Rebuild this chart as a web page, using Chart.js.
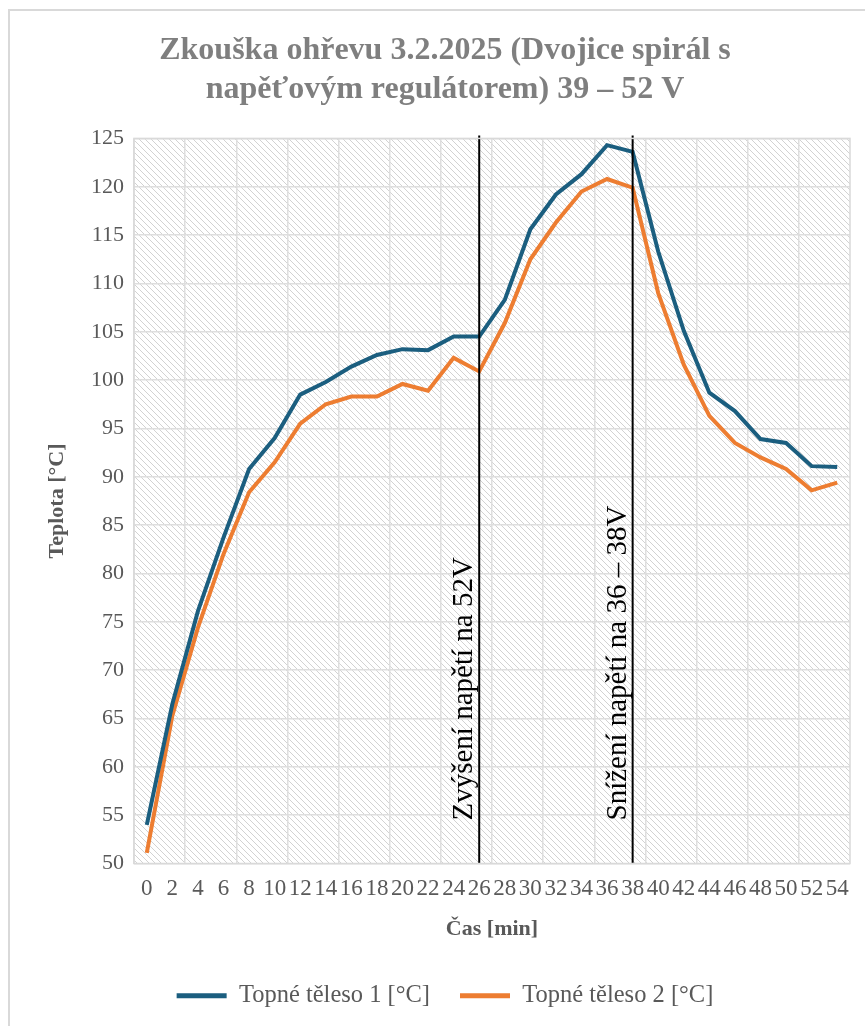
<!DOCTYPE html>
<html>
<head>
<meta charset="utf-8">
<script src="https://cdn.jsdelivr.net/npm/chart.js@4.4.1/dist/chart.umd.min.js"></script>
<style>
  html, body { margin: 0; padding: 0; background: #fff; overflow: hidden; }
  #frame { position: absolute; left: 8px; top: 9px; width: 900px; height: 1100px; border: 2px solid #d9d9d9; box-sizing: border-box; }
  #chart { position: absolute; left: 0; top: 0; }
</style>
</head>
<body>
<div id="frame"></div>
<canvas id="chart" width="865" height="1026"></canvas>
<script>
const minutes = ['0', '2', '4', '6', '8', '10', '12', '14', '16', '18', '20', '22', '24', '26',
    '28', '30', '32', '34', '36', '38', '40', '42', '44', '46', '48', '50', '52', '54'];

const teleso1 = [54.0, 66.5, 76.1, 83.7, 90.8, 94.0, 98.5, 99.8, 101.4, 102.6, 103.2, 103.1, 104.5, 104.5,
    108.3, 115.6, 119.2, 121.3, 124.3, 123.6, 113.3, 105.1, 98.7, 96.8, 93.9, 93.5, 91.1, 91.0];

const teleso2 = [51.1, 65.3, 74.4, 82.0, 88.4, 91.5, 95.5, 97.5, 98.3, 98.3, 99.6, 98.9, 102.3, 100.9,
    105.9, 112.5, 116.3, 119.5, 120.8, 119.9, 109.0, 101.6, 96.3, 93.5, 92.0, 90.8, 88.6, 89.4];

// svisle cary se zmenou napeti
const markerMinutes = ['26', '38'];
const markerTexts = ['Zvýšení napětí na 52V', 'Snížení napětí na 36 – 38V'];

const serif = "'Liberation Serif', 'Times New Roman', serif";

// sraf na pozadi grafu
function hatchPattern(ctx) {
    const tile = document.createElement('canvas');
    tile.width = 6;
    tile.height = 6;
    const t = tile.getContext('2d');
    t.strokeStyle = '#d2d2d2';
    t.lineWidth = 1;
    t.beginPath();
    t.moveTo(-1, -1); t.lineTo(7, 7);
    t.moveTo(-1, 5); t.lineTo(1, 7);
    t.moveTo(5, -1); t.lineTo(7, 1);
    t.stroke();
    return ctx.createPattern(tile, 'repeat');
}

const plotBackground = {
    id: 'plotBackground',
    beforeDraw(chart) {
        const {ctx, chartArea: a} = chart;
        ctx.save();
        ctx.fillStyle = hatchPattern(ctx);
        ctx.fillRect(a.left, a.top, a.right - a.left, a.bottom - a.top);
        ctx.restore();
    },
    afterDraw(chart) {
        const {ctx, chartArea: a} = chart;
        ctx.save();
        ctx.strokeStyle = '#d9d9d9';
        ctx.lineWidth = 1.5;
        ctx.strokeRect(a.left, a.top, a.right - a.left, a.bottom - a.top);
        ctx.restore();
    }
};

const markers = {
    id: 'markers',
    afterDatasetsDraw(chart) {
        const {ctx, chartArea: a, scales: {x}} = chart;
        ctx.save();
        markerMinutes.forEach((m, i) => {
            const px = x.getPixelForValue(minutes.indexOf(m));
            ctx.strokeStyle = '#000';
            ctx.lineWidth = 2;
            ctx.beginPath();
            ctx.moveTo(px, a.top - 3);
            ctx.lineTo(px, a.bottom);
            ctx.stroke();

            ctx.save();
            ctx.translate(px - 7, a.bottom - 43);
            ctx.rotate(-Math.PI / 2);
            ctx.fillStyle = '#000';
            ctx.font = '29px ' + serif;
            ctx.textAlign = 'left';
            ctx.textBaseline = 'alphabetic';
            ctx.fillText(markerTexts[i], 0, 0);
            ctx.restore();
        });
        ctx.restore();
    }
};

new Chart(document.getElementById('chart'), {
    type: 'line',
    data: {
        labels: minutes,
        datasets: [{
            label: 'Topné těleso 1 [°C]',
            data: teleso1,
            borderColor: '#1b5e7f',
            backgroundColor: '#1b5e7f',
            borderWidth: 4,
            pointRadius: 0,
            tension: 0
        }, {
            label: 'Topné těleso 2 [°C]',
            data: teleso2,
            borderColor: '#ed7d31',
            backgroundColor: '#ed7d31',
            borderWidth: 4,
            pointRadius: 0,
            tension: 0
        }]
    },
    options: {
        responsive: false,
        animation: false,
        layout: { padding: { left: 40, right: 15, top: 0, bottom: 8 } },
        plugins: {
            title: {
                display: true,
                text: ['Zkouška ohřevu 3.2.2025 (Dvojice spirál s', 'napěťovým regulátorem) 39 – 52 V'],
                color: '#7f7f7f',
                font: { family: serif, size: 32, weight: 'bold', lineHeight: 1.2 },
                padding: { top: 32, bottom: 29.6 }
            },
            legend: {
                position: 'bottom',
                labels: {
                    color: '#595959',
                    font: { family: serif, size: 24.5 },
                    boxWidth: 50,
                    boxHeight: 5,
                    padding: 30,
                    generateLabels(chart) {
                        return Chart.defaults.plugins.legend.labels.generateLabels(chart).map(l => {
                            l.lineWidth = 0;
                            return l;
                        });
                    }
                }
            },
            tooltip: { enabled: false }
        },
        scales: {
            x: {
                offset: true,
                afterFit(scale) { scale.height = 90; },
                grid: {
                    offset: true,
                    drawTicks: false,
                    color: ctx => (ctx.index % 2 === 0 ? '#dedede' : 'rgba(0,0,0,0)'),
                    lineWidth: 1.5
                },
                border: { display: false },
                ticks: {
                    autoSkip: false,
                    maxRotation: 0,
                    padding: 12,
                    color: '#595959',
                    font: { family: serif, size: 23 }
                },
                title: {
                    display: true,
                    text: 'Čas [min]',
                    color: '#595959',
                    font: { family: serif, size: 22, weight: 'bold' },
                    padding: { top: 4, bottom: 11 }
                }
            },
            y: {
                min: 50,
                max: 125,
                afterFit(scale) { scale.width = 94; },
                grid: { drawTicks: false, color: '#dedede', lineWidth: 1.5 },
                border: { display: false },
                ticks: {
                    stepSize: 5,
                    padding: 10,
                    color: '#595959',
                    font: { family: serif, size: 22 }
                },
                title: {
                    display: true,
                    text: 'Teplota [°C]',
                    color: '#595959',
                    font: { family: serif, size: 22, weight: 'bold' },
                    padding: { top: 4, bottom: 4 }
                }
            }
        }
    },
    plugins: [plotBackground, markers]
});
</script>
</body>
</html>
